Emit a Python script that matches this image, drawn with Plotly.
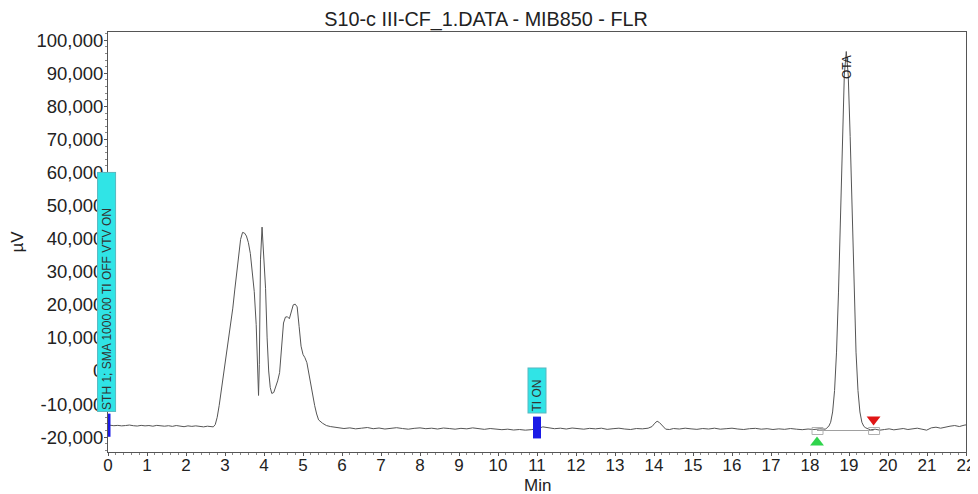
import plotly.graph_objects as go

# ---- data (time in min, signal in µV) ----
seg_start = [(0.05, -16400), (0.15, -16550), (0.25, -16450), (0.35, -16600), (0.45, -16500),
             (0.55, -16350), (0.65, -16550), (0.75, -16650), (0.85, -16450), (0.95, -16600),
             (1.05, -16500), (1.15, -16700), (1.25, -16450), (1.35, -16600), (1.45, -16700),
             (1.55, -16550), (1.65, -16750), (1.75, -16500), (1.85, -16650), (1.95, -16850),
             (2.05, -16600), (2.15, -16750), (2.25, -16600), (2.35, -16800), (2.45, -16900),
             (2.55, -16700), (2.65, -16900)]

seg_group1 = [(2.70, -16900), (2.75, -16200), (2.80, -14000), (2.85, -10500), (2.90, -6500),
              (2.95, -2500), (3.00, 1500), (3.05, 5500), (3.10, 9500), (3.15, 14000),
              (3.20, 19000), (3.25, 24500), (3.30, 30000), (3.35, 35500), (3.40, 39800),
              (3.45, 41900), (3.50, 41700), (3.55, 40800), (3.60, 38800), (3.65, 35500),
              (3.70, 30500), (3.75, 24000), (3.80, 14000), (3.83, 3000), (3.86, -7400),
              (3.88, 2000), (3.91, 33600), (3.95, 43500), (3.98, 38000), (4.01, 30000),
              (4.04, 25000), (4.08, 10000), (4.12, 0), (4.16, -5000), (4.20, -6800),
              (4.25, -6500), (4.30, -5000), (4.35, -3000), (4.40, -500), (4.45, 6000),
              (4.50, 14500), (4.55, 16300), (4.60, 16400), (4.65, 15800), (4.70, 18000),
              (4.75, 20000), (4.80, 20200), (4.85, 19400), (4.90, 13500), (4.95, 7500),
              (5.00, 5000), (5.05, 4000), (5.10, 2500), (5.15, -1000), (5.20, -4000),
              (5.25, -7500), (5.30, -10500), (5.35, -13000), (5.40, -14800), (5.50, -15800),
              (5.60, -16500), (5.70, -16800), (5.80, -17000)]

seg_mid = [(5.90, -17100), (6.05, -17400), (6.20, -17200), (6.35, -17500), (6.50, -17300),
           (6.65, -17100), (6.80, -17450), (6.95, -17250), (7.10, -17550), (7.25, -17300),
           (7.40, -17150), (7.55, -17400), (7.70, -17600), (7.85, -17350), (8.00, -17200),
           (8.15, -17450), (8.30, -17300), (8.45, -17550), (8.60, -17250), (8.75, -17400),
           (8.90, -17600), (9.05, -17350), (9.20, -17500), (9.35, -17200), (9.50, -17450),
           (9.65, -17650), (9.80, -17400), (9.95, -17550), (10.10, -17750), (10.25, -17600),
           (10.40, -17850), (10.55, -17700), (10.70, -17900), (10.85, -17750), (11.00, -17500),
           (11.15, -16900), (11.30, -17200), (11.45, -17450), (11.60, -17300), (11.75, -17550),
           (11.90, -17250), (12.05, -17400), (12.20, -17600), (12.35, -17350), (12.50, -17500),
           (12.65, -17300), (12.80, -17650), (12.95, -17450), (13.10, -17300), (13.25, -17550),
           (13.40, -17700), (13.55, -17400), (13.70, -17500)]

seg_bump = [(13.85, -17300), (13.95, -16800), (14.02, -15800), (14.08, -15200), (14.14, -15600),
            (14.22, -16700), (14.30, -17600), (14.40, -17700)]

seg_late = [(14.50, -17400), (14.65, -17550), (14.80, -17300), (14.95, -17500), (15.10, -17650),
            (15.25, -17400), (15.40, -17550), (15.55, -17300), (15.70, -17600), (15.85, -17450),
            (16.00, -17300), (16.15, -17550), (16.30, -17700), (16.45, -17450), (16.60, -17350),
            (16.75, -17600), (16.90, -17450), (17.05, -17700), (17.20, -17500), (17.35, -17650),
            (17.50, -17400), (17.65, -17600), (17.80, -17750), (17.95, -17550), (18.10, -17700),
            (18.25, -17500), (18.40, -17600)]

seg_ota = [(18.43, -17200), (18.48, -16750), (18.53, -15500), (18.58, -12400), (18.63, -5900),
           (18.68, 5700), (18.73, 23600), (18.78, 46800), (18.83, 70900), (18.88, 89500),
           (18.93, 96600), (18.98, 89500), (19.03, 70900), (19.08, 46800), (19.13, 23600),
           (19.18, 5700), (19.23, -5900), (19.28, -12400), (19.33, -15500), (19.38, -16750),
           (19.43, -17200)]

seg_end = [(19.55, -17800), (19.67, -17600), (19.79, -17900), (19.91, -17700), (20.03, -17500),
           (20.15, -17800), (20.27, -17600), (20.39, -17400), (20.51, -17700), (20.63, -17500),
           (20.75, -17300), (20.87, -17600), (20.99, -17900), (21.11, -17200), (21.23, -17000),
           (21.35, -17300), (21.47, -16900), (21.59, -16700), (21.71, -16500), (21.83, -16800),
           (21.95, -16400), (22.00, -16300)]

segments = [seg_start, seg_group1, seg_mid, seg_bump, seg_late, seg_ota, seg_end]
time_min = [p[0] for s in segments for p in s]
signal_uv = [p[1] for s in segments for p in s]

x_ticks = list(range(0, 23))
y_ticks = [-20000, -10000, 0, 10000, 20000, 30000, 40000, 50000, 60000, 70000, 80000, 90000, 100000]

event_times = [0.0, 11.0]
event_texts = ["STH 1; SMA 1000.00 TI OFF VTV ON", "TI ON"]
event_label_centers = [23900, -5900]
event_label_lengths = [236, 42]

peak_name = "OTA"
peak_apex = (18.93, 96600)
integ_start = (18.18, -18000)
integ_end = (19.63, -18000)

FONT = "Liberation Sans, Arial, sans-serif"
AXC = "#555555"

# the page body keeps an 8 px margin, so the figure is drawn 8 px in from the window edge
W, H, OFF = 970, 486, 8

fig = go.Figure()
fig.add_trace(go.Scatter(x=time_min, y=signal_uv, mode="lines",
                         line=dict(color="#555555", width=1), showlegend=False,
                         hoverinfo="skip"))

# integration baseline
fig.add_trace(go.Scatter(x=[integ_start[0], integ_end[0]], y=[integ_start[1], integ_end[1]],
                         mode="lines", line=dict(color="#a0a0a0", width=1),
                         showlegend=False, hoverinfo="skip"))
# start / end markers
fig.add_trace(go.Scatter(x=[integ_start[0]], y=[-21600], mode="markers",
                         marker=dict(symbol="triangle-up", size=12, color="#2fd44c"),
                         showlegend=False, hoverinfo="skip"))
fig.add_trace(go.Scatter(x=[integ_end[0]], y=[-14700], mode="markers",
                         marker=dict(symbol="triangle-down", size=12, color="#e01515"),
                         showlegend=False, hoverinfo="skip"))

shapes = []
# small grey boxes at integration points
for px in (integ_start, integ_end):
    shapes.append(dict(type="rect", xref="x", yref="y", xsizemode="pixel", ysizemode="pixel",
                       xanchor=px[0], yanchor=px[1], x0=-5, x1=6, y0=-4, y1=3,
                       line=dict(color="#b0b0b0", width=1)))
# blue event bars
bar_geom = [(-1, 2.5, -12900, -19900), (-4, 4, -13800, -20400)]
for t, g in zip(event_times, bar_geom):
    shapes.append(dict(type="rect", xref="x", yref="y", xsizemode="pixel", xanchor=t,
                       x0=g[0], x1=g[1], y0=g[2], y1=g[3],
                       fillcolor="#1a1ae6", line=dict(width=0), layer="above"))

annotations = []
for t, txt, yc, ln in zip(event_times, event_texts, event_label_centers, event_label_lengths):
    annotations.append(dict(x=t, y=yc, xref="x", yref="y", text=txt, showarrow=False,
                            textangle=-90, font=dict(family=FONT, size=12, color="#333333"),
                            bgcolor="#30e4e6", bordercolor="#58b8c0", borderwidth=1,
                            width=ln, height=15, align="left", borderpad=1,
                            xshift=-1 if t == 0 else 0))
annotations.append(dict(x=peak_apex[0], y=92000, xref="x", yref="y", text=peak_name,
                        showarrow=False, textangle=-90,
                        font=dict(family=FONT, size=12, color="#222222")))
# x-axis title
annotations.append(dict(x=0.5, y=0, xref="paper", yref="paper", text="Min", showarrow=False,
                        xanchor="center", yanchor="middle", yshift=-33, borderpad=0,
                        font=dict(family=FONT, size=17, color="#222222")))

fig.update_layout(
    width=W, height=H,
    margin=dict(l=108 - OFF, r=12, t=32 - OFF, b=42, autoexpand=False),
    paper_bgcolor="white", plot_bgcolor="white",
    font=dict(family=FONT, size=17, color="#222222"),
    title=dict(text="S10-c III-CF_1.DATA - MIB850 - FLR", x=(486 - OFF) / W, xref="container",
               xanchor="center", y=1 - (19 - OFF) / H, yref="container", yanchor="middle",
               font=dict(family=FONT, size=19.8, color="#222222")),
    shapes=shapes, annotations=annotations,
)
fig.update_xaxes(range=[0, 22], tickvals=x_ticks, ticktext=[str(v) for v in x_ticks],
                 showgrid=False, zeroline=False, showline=True, linecolor=AXC, linewidth=1,
                 mirror=True, ticks="outside", ticklen=3, tickcolor=AXC, automargin=False,
                 ticklabelstandoff=-5,
                 minor=dict(dtick=0.2, ticks="outside", ticklen=2, tickcolor="#888888"),
                 tickfont=dict(size=17))
fig.update_yaxes(range=[-24500, 102500], tickvals=y_ticks,
                 ticktext=[f"{v:,}" for v in y_ticks],
                 showgrid=False, zeroline=False, showline=True, linecolor=AXC, linewidth=1,
                 mirror=True, ticks="outside", ticklen=3, tickcolor=AXC, automargin=False,
                 ticklabelstandoff=-3,
                 minor=dict(dtick=2000, ticks="outside", ticklen=2, tickcolor="#888888"),
                 tickfont=dict(size=18.5),
                 title=dict(text="µV", standoff=8, font=dict(size=17)))

fig.write_html("out.html")
